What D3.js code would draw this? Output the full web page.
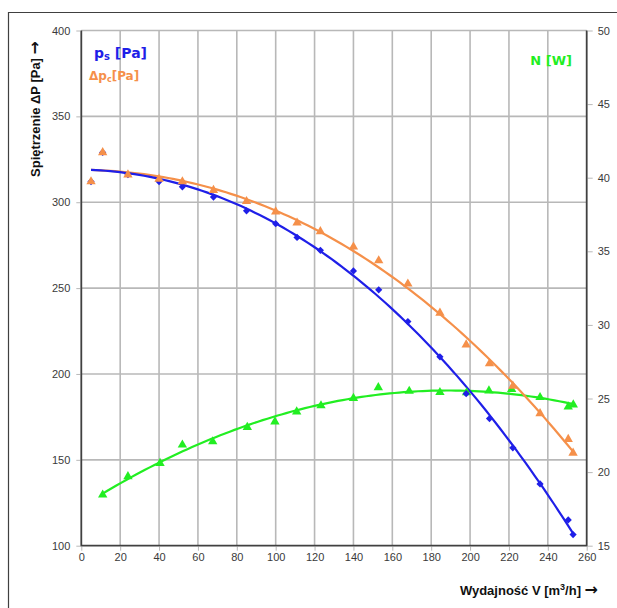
<!DOCTYPE html>
<html>
<head>
<meta charset="utf-8">
<script src="https://cdn.jsdelivr.net/npm/d3@7"></script>
<style>
  body { margin: 0; background: #fff; }
  svg { font-family: "Liberation Sans", Arial, sans-serif; }
  .tick text { fill: #3a3a3a; font-size: 11px; }
  .arrow { font-family: "DejaVu Sans", sans-serif; font-weight: bold; font-size: 16px; }
  .legend { font-family: "DejaVu Sans", Verdana, sans-serif; font-weight: bold; }
</style>
</head>
<body>
<div id="chart"></div>
<script>
////////////////////////////////////////////////////////////////////
////////////////////////////  Data  ////////////////////////////////

// wydajnosc V [m3/h] for pressure curves
const flowP = [5, 11, 24, 40, 52, 68, 85, 100, 111, 123, 140, 153, 168, 184.5, 198, 210, 222, 236, 250.5, 253];
const ps = [312, 329, 316, 312, 309, 303, 295, 287.5, 279.5, 272, 260, 249, 230.5, 210, 188.5, 174, 157, 136, 115, 106.5];
const dpc = [312, 329, 316, 313.5, 312, 307, 300.5, 294.5, 288, 283, 274, 266, 252.5, 235.5, 217, 206, 193, 177, 162, 154];

// power N [W]
const flowN = [11, 24, 40.5, 52, 67.6, 85.4, 99.6, 110.8, 123.3, 140, 152.8, 168.7, 184.5, 198.2, 209.7, 221.4, 236, 250.5, 253.1];
const powerN = [18.45, 19.7, 20.6, 21.85, 22.07, 23.05, 23.42, 24.1, 24.52, 25.02, 25.75, 25.5, 25.42, 25.4, 25.53, 25.62, 25.08, 24.44, 24.58];

const xTicks = d3.range(0, 261, 20);
const yTicksL = d3.range(100, 401, 50);
const yTicksR = d3.range(15, 51, 5);

////////////////////////////////////////////////////////////////////
////////////////////////////  Init  ////////////////////////////////

const width = 617, height = 608;
const plot = { left: 81.3, right: 586.7, top: 30.5, bottom: 545.7 };

const blue = "#1f1fe8";
const orange = "#f5904a";
const green = "#22ee22";
const gridColor = "#b8b8b8";
const axisColor = "#404040";

const svg = d3.select("#chart").append("svg")
  .attr("width", width)
  .attr("height", height);

// outer frame (continues off the right / bottom edge)
svg.append("path")
  .attr("d", `M8.5,${height + 2} V12.5 H${width + 2}`)
  .attr("fill", "none")
  .attr("stroke", axisColor)
  .attr("stroke-width", 1.2);

const x = d3.scaleLinear().domain([0, 260]).range([plot.left, plot.right]);
const yL = d3.scaleLinear().domain([100, 400]).range([plot.bottom, plot.top]);
const yR = d3.scaleLinear().domain([15, 50]).range([plot.bottom, plot.top]);

// grid
svg.append("g")
  .selectAll("line")
  .data(xTicks.filter(d => d > 0 && d < 260))
  .join("line")
  .attr("x1", d => x(d)).attr("x2", d => x(d))
  .attr("y1", plot.top).attr("y2", plot.bottom)
  .attr("stroke", gridColor).attr("stroke-width", 1.6);

svg.append("g")
  .selectAll("line")
  .data(yTicksL.filter(d => d > 100))
  .join("line")
  .attr("x1", plot.left).attr("x2", plot.right)
  .attr("y1", d => yL(d)).attr("y2", d => yL(d))
  .attr("stroke", gridColor).attr("stroke-width", 1.6);

// axes
const styleAxis = (g) => {
  g.select(".domain").remove();
  g.selectAll(".tick line").attr("stroke", gridColor).attr("stroke-width", 1);
};

svg.append("g")
  .attr("transform", `translate(${plot.left - 1},0)`)
  .call(d3.axisLeft(yL).tickValues(yTicksL).tickSize(4).tickPadding(6))
  .call(styleAxis);

svg.append("g")
  .attr("transform", `translate(${plot.right + 1},0)`)
  .call(d3.axisRight(yR).tickValues(yTicksR).tickSize(5).tickPadding(5))
  .call(styleAxis);

svg.append("g")
  .attr("transform", `translate(0,${plot.bottom + 1})`)
  .call(d3.axisBottom(x).tickValues(xTicks).tickSize(4).tickPadding(3))
  .call(styleAxis);

// axis lines (left, bottom, right)
svg.append("path")
  .attr("d", `M${plot.left},${plot.top} V${plot.bottom} H${plot.right} V${plot.top}`)
  .attr("fill", "none")
  .attr("stroke", axisColor)
  .attr("stroke-width", 1.8);

////////////////////////////////////////////////////////////////////
//////////////////////////  Trend lines  ///////////////////////////

// least squares polynomial (like the spreadsheet trendline)
const polyFit = (xs, ys, order) => {
  const n = order + 1;
  const A = d3.range(n).map(() => new Array(n + 1).fill(0));
  xs.forEach((v, i) => {
    for (let r = 0; r < n; r++) {
      for (let c = 0; c < n; c++) A[r][c] += Math.pow(v, r + c);
      A[r][n] += ys[i] * Math.pow(v, r);
    }
  });
  for (let c = 0; c < n; c++) {
    for (let r = c + 1; r < n; r++) {
      const f = A[r][c] / A[c][c];
      for (let k = c; k <= n; k++) A[r][k] -= f * A[c][k];
    }
  }
  const coef = new Array(n).fill(0);
  for (let r = n - 1; r >= 0; r--) {
    let s = A[r][n];
    for (let k = r + 1; k < n; k++) s -= A[r][k] * coef[k];
    coef[r] = s / A[r][r];
  }
  return (v) => coef.reduce((acc, c, k) => acc + c * Math.pow(v, k), 0);
};

const drawTrend = (xs, ys, yScale, color, order) => {
  const f = polyFit(xs, ys, order);
  const [x0, x1] = d3.extent(xs);
  const pts = d3.range(0, 101).map(i => x0 + (x1 - x0) * i / 100);
  svg.append("path")
    .datum(pts)
    .attr("d", d3.line().x(d => x(d)).y(d => yScale(f(d))))
    .attr("fill", "none")
    .attr("stroke", color)
    .attr("stroke-width", 2.2);
};

drawTrend(flowN, powerN, yR, green, 2);
drawTrend(flowP, dpc, yL, orange, 3);
drawTrend(flowP, ps, yL, blue, 3);

////////////////////////////////////////////////////////////////////
////////////////////////////  Markers  /////////////////////////////

const tri = d3.symbol().type(d3.symbolTriangle).size(38);
const sq = d3.symbol().type(d3.symbolSquare).size(26);

const drawMarkers = (xs, ys, yScale, sym, color, rot) => {
  svg.append("g")
    .selectAll("path")
    .data(xs)
    .join("path")
    .attr("d", sym)
    .attr("transform", (d, i) => `translate(${x(d)},${yScale(ys[i])}) rotate(${rot})`)
    .attr("fill", color);
};

drawMarkers(flowN, powerN, yR, tri, green, 0);
drawMarkers(flowP, ps, yL, sq, blue, 45);
drawMarkers(flowP, dpc, yL, tri, orange, 0);

////////////////////////////////////////////////////////////////////
////////////////////////////  Labels  //////////////////////////////

const psLabel = svg.append("text")
  .attr("class", "legend")
  .attr("x", 94).attr("y", 58)
  .attr("fill", blue)
  .attr("font-size", 14);
psLabel.append("tspan").text("p");
psLabel.append("tspan").attr("font-size", 10).attr("dy", 2).text("s");
psLabel.append("tspan").attr("dy", -2).text(" [Pa]");

const dpcLabel = svg.append("text")
  .attr("class", "legend")
  .attr("x", 89).attr("y", 80)
  .attr("fill", orange)
  .attr("font-size", 12);
dpcLabel.append("tspan").text("Δp");
dpcLabel.append("tspan").attr("font-size", 8).attr("dy", 2).text("c");
dpcLabel.append("tspan").attr("dy", -2).text("[Pa]");

svg.append("text")
  .attr("class", "legend")
  .attr("x", 572).attr("y", 65)
  .attr("text-anchor", "end")
  .attr("fill", green)
  .attr("font-size", 13)
  .text("N [W]");

const yTitle = svg.append("text")
  .attr("transform", "translate(40,109) rotate(-90)")
  .attr("text-anchor", "middle")
  .attr("font-size", 13).attr("font-weight", "bold")
  .attr("fill", "#111");
yTitle.append("tspan").text("Spiętrzenie ΔP [Pa] ");
yTitle.append("tspan").attr("class", "arrow").text("→");

const xTitle = svg.append("text")
  .attr("x", 598).attr("y", 595)
  .attr("text-anchor", "end")
  .attr("font-size", 13).attr("font-weight", "bold")
  .attr("fill", "#111");
xTitle.append("tspan").text("Wydajność V [m");
xTitle.append("tspan").attr("font-size", 9).attr("dy", -5).text("3");
xTitle.append("tspan").attr("dy", 5).text("/h] ");
xTitle.append("tspan").attr("class", "arrow").text("→");
</script>
</body>
</html>
